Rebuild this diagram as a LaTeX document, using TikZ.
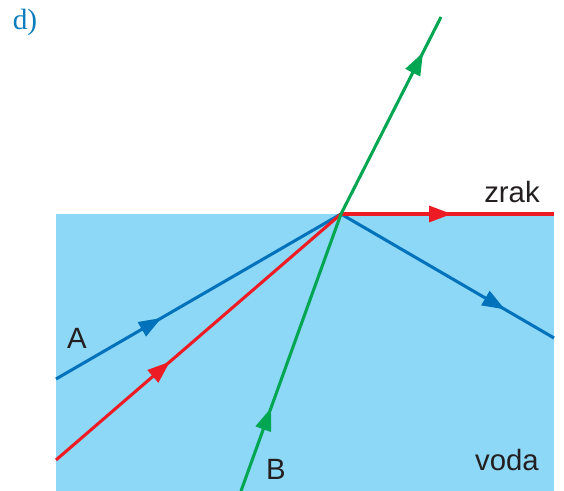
\documentclass[tikz,border=0pt]{standalone}
\usepackage{fontspec}
\setmainfont{Liberation Sans}
\newfontfamily\labelserif{Liberation Serif}
\usetikzlibrary{arrows.meta,decorations.markings}
\definecolor{water}{HTML}{8ED8F7}
\definecolor{rayblue}{HTML}{0072BC}
\definecolor{rayred}{HTML}{ED1C24}
\definecolor{raygreen}{HTML}{00A651}
\definecolor{ink}{HTML}{231F20}
\definecolor{tag}{HTML}{0A7DBF}

\begin{document}
\begin{tikzpicture}[x=0.75pt,y=-0.75pt,
  every node/.style={font=\fontsize{22}{26}\selectfont, text=ink, inner sep=0pt},
  ray/.style={line width=2.3pt},
  tipat/.style={postaction={decorate}, decoration={markings,
      mark=at position #1 with {\arrow{Triangle[length=17pt,width=12pt]}}}},
]
  \useasboundingbox (0,0) rectangle (564,491);

  % Water
  \fill[water] (56,214) rectangle (554,491);

  % Points on the rays
  \coordinate (O) at (341,214);
  \coordinate (Ain) at (56,379);
  \coordinate (Aout) at (554,338);
  \coordinate (Rin) at (56,460);
  \coordinate (Rout) at (554,214);
  \coordinate (Bin) at (241,491);
  \coordinate (Bout) at (441,17);

  % Ray A: reflected
  \draw[ray, rayblue, tipat=.37] (Ain) -- (O);
  \draw[ray, rayblue, tipat=.77] (O) -- (Aout);
  % Critical ray
  \draw[ray, rayred, tipat=.40] (Rin) -- (O);
  \draw[ray, rayred, tipat=.52] (O) -- (Rout);
  % Ray B: refracted
  \draw[ray, raygreen, tipat=.30] (Bin) -- (O);
  \draw[ray, raygreen, tipat=.82] (O) -- (Bout);

  % Labels
  \node (d) at (25,22) {\labelserif\color{tag}d)};
  \node (air) at (512,192) {zrak};
  \node (wat) at (507,460) {voda};
  \node (A) at (77,338) {A};
  \node (B) at (276,469) {B};
\end{tikzpicture}
\end{document}
